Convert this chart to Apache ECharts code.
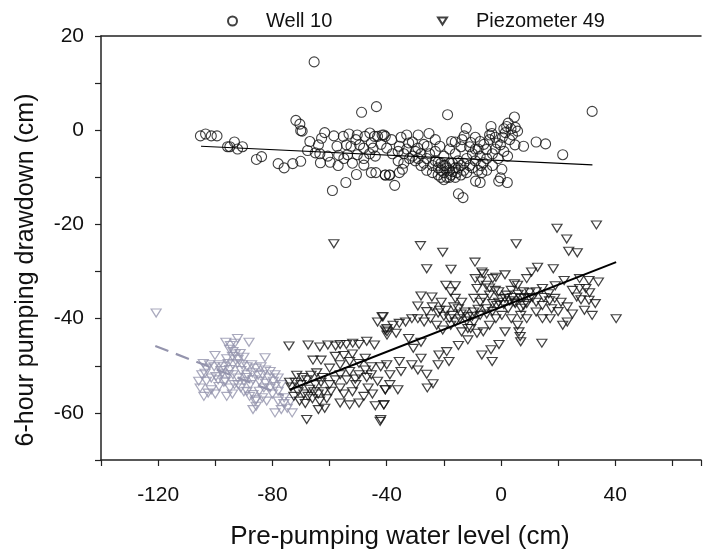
<!DOCTYPE html>
<html>
<head>
<meta charset="utf-8">
<script src="https://cdn.jsdelivr.net/npm/echarts@6/dist/echarts.min.js"></script>
<style>
  html, body { margin: 0; padding: 0; background: #fff; }
  #chart { width: 704px; height: 555px; }
</style>
</head>
<body>
<div id="chart"></div>
<script>
// Well 10 readings (pre-pumping level, 6-hour drawdown), in cm
var well10 = [
  [-65.4,14.5],[-105.2,-1.2],[-103.4,-0.8],[-101.4,-1.2],[-99.4,-1.2],[-95.7,-3.5],[-94.9,-3.5],[-93.3,-2.5],
  [-92.2,-4.0],[-90.5,-3.5],[-85.6,-6.2],[-83.8,-5.6],[-78.0,-7.1],[-75.9,-8.0],[-72.9,-7.1],[-70.1,-6.6],
  [-71.8,2.1],[-70.4,1.3],[-70.1,-0.1],[-69.6,-0.2],[-59.0,-12.8],[-54.3,-11.1],[-50.6,-9.4],[-48.8,3.8],
  [-43.6,5.0],[-48.0,-7.4],[-45.4,-9.0],[-43.8,-9.0],[-40.5,-9.5],[-38.9,-9.5],[-63.2,-6.9],[-59.8,-6.8],
  [-66.9,-2.4],[-67.7,-4.3],[-65.0,-4.8],[-63.4,-5.0],[-61.7,-0.5],[-62.8,-1.7],[-63.9,-3.1],[-60.6,-5.5],
  [-58.5,-1.2],[-57.4,-3.4],[-56.8,-5.3],[-55.2,-1.3],[-54.1,-3.1],[-53.2,-0.8],[-52.5,-3.4],[-53.7,-5.2],
  [-50.8,-2.0],[-50.3,-1.0],[-50.3,-5.2],[-49.5,-3.1],[-48.1,-3.8],[-47.6,-1.3],[-45.9,-0.6],[-45.4,-2.7],
  [-44.8,-3.8],[-44.3,-1.3],[-43.2,-1.3],[-41.6,-1.0],[-40.5,-1.3],[-40.0,-3.8],
  [31.9,4.0],[21.6,-5.2],[15.6,-2.9],[12.3,-2.5],[7.9,-3.4],[4.7,2.8],[2.5,1.5],[1,0.3],[2,0.8],[3.5,0.3],
  [5,0.6],[5.8,-0.2],[4,-1.0],[1.5,-0.5],[4.9,-3.1],[2.3,-5.5],[-0.2,-3.1],[0.3,-8.3],[-0.2,-10.1],
  [-0.8,-10.8],[2.2,-11.1],[-3.5,0.8],[-3.2,-0.7],[-4.0,-2.0],[-1.3,-2.7],[-5.1,-4.1],[-6.2,-6.9],
  [-7.3,-5.5],[-7.3,-2.4],[-6.7,-9.0],[-8.9,-10.8],[-7.3,-11.1],[-10.6,-2.6],[-12.2,0.4],[-12.9,-1.2],
  [-13.6,-2.0],[-14.9,-13.5],[-13.3,-14.3],[-18.7,3.3],[-25.2,-0.7],[-17.3,-2.4],[-21.4,-3.4],[-25.8,-3.4],
  [-29.1,-3.8],[-32.3,-2.7],[-35.6,-3.4],[-38.3,-2.0],[-41.0,-1.0],[-37.2,-11.7],[-40.5,-9.5],[-39.1,-9.5],
  [-35.6,-9.0],[-34.5,-8.3],
  [-36,-4.5],[-34,-5],[-33,-4],[-31,-5.5],[-30,-4.5],[-29,-6],[-28,-5],[-27,-7],[-26,-6],[-25,-5],
  [-24,-7.5],[-23,-6.5],[-22,-8],[-21,-7],[-20,-9],[-19.5,-7.5],[-19,-10],[-18,-8.5],[-17.5,-9.5],[-17,-7],
  [-16,-8],[-15.5,-9],[-15,-6.5],[-14,-7.5],[-13,-8.5],[-12,-6],[-11,-7.5],[-10,-5],[-9,-6.5],[-8,-4],
  [-7,-7.5],[-5,-6],[-3,-5],[-2,-4],[-22,-9.5],[-21,-10],[-20,-10.5],[-18,-10],[-16,-10],[-24,-9],
  [-26,-8.5],[-28,-7.5],[-30,-6.5],[-32,-6],[-34,-7],[-14,-9.5],[-12,-9],[-10,-8],[-23,-4.5],[-27,-3],
  [-31,-2.5],[-16,-5],[-18,-4],[-20,-5.5],[-11,-3.5],[-9,-4],[-6,-3],[-4,-1],[-2,-1.5],[0.5,-1.5],
  [1,-4.5],[3,-2],[-1,-6],[-3,-7.5],[-5,-8.5],[-8,-8.5],[-38,-5],[-36,-6.5],[-42,-3],[-44,-5.5],
  [-46,-5],[-48,-6],[-52,-7],[-55,-6],[-57,-7.5],[-35,-1.5],[-33,-1],[-29,-1],[-23,-2],[-16,-2.5],
  [-14,-3.5],[-9,-1.5],[-21,-8.5],[-19,-8],[-17,-8.8],[-15,-8],[-13,-7],[-20,-7.5],[-18,-7],[-22,-6.8]
];

// Piezometer 49, main period (black triangles)
var piezo49 = [
  [-58.5,-24.1],[-74.2,-45.8],[-67.5,-45.6],[-63.4,-46.0],[-60.6,-45.6],[-57.9,-45.8],[-56.3,-45.5],
  [-54.1,-45.5],[-51.9,-45.2],[-49.7,-45.5],[-47.0,-44.8],[-44.3,-45.6],[-43.2,-40.7],[-41.3,-39.6],
  [-40.5,-42.4],[-39.9,-43.5],[-65.8,-48.8],[-63.0,-48.8],[-56.3,-49.8],[-53.0,-49.1],[-49.7,-49.5],
  [-47.5,-48.4],[-45.4,-50.2],
  [-73.5,-54.5],[-72,-53.5],[-71,-55.5],[-70,-54],[-69,-56],[-68,-53],[-67,-55],[-66,-57],[-65,-54],
  [-64,-56],[-63,-53.5],[-62,-55.5],[-61,-57],[-60,-54],[-72.5,-56.5],[-70.5,-57.5],[-68.5,-58],
  [-66.5,-52],[-64.5,-51.5],[-62.5,-52.5],[-69.5,-52.5],[-67.5,-56.5],[-65.5,-55.5],[-63.5,-57.5],
  [-71.5,-52],[-74,-53.5],
  [-68,-61.4],[-42.3,-61.8],[-63.9,-59.3],[-61.7,-59.0],[-41.0,-58.3],[-56.3,-57.9],[-53.0,-58.3],
  [-49.7,-57.9],[-59.5,-55.4],[-56.3,-54.7],[-50.8,-54.0],[-46.5,-54.7],[-43.2,-53.3],[-40.5,-55.1],
  [-38.9,-54.0],[-56.3,-51.9],[-53.0,-51.2],[-49.7,-51.9],[-47.5,-50.9],[-45.4,-51.9],[-42.1,-50.2],
  [-40.0,-49.8],[-58,-53],[-55,-56],[-52,-55.5],[-48,-56.5],[-45,-56],[-44,-58.5],[-54,-53],[-51,-52.8],
  [-47,-52.5],[-60,-50.5],[-58,-48],[-52,-47.5],[-55,-47.8],
  [19.6,-20.8],[33.4,-20.1],[23.0,-23.1],[23.7,-25.7],[26.7,-26.0],[5.3,-24.1],[-28.2,-24.5],
  [-20.4,-25.9],[-26.0,-29.4],[-9.1,-28.0],[40.3,-40.0],[14.3,-45.2],[6.9,-44.9],[6.7,-43.8],[6.3,-42.8],
  [-0.7,-45.5],[-3.5,-46.6],[-3.1,-49.1],[-6.7,-47.7],[-18.2,-49.1],[-22.0,-49.8],[-19.0,-47.0],
  [-21.7,-47.7],[-14.9,-45.7],[-11.6,-44.5],[-25.8,-54.7],[-23.8,-53.8],[-26.0,-51.8],[-29.1,-50.9],
  [-31.2,-49.8],[-35.6,-49.1],[-35.0,-51.2],[-38.9,-51.9],[-36.1,-55.1],[-40.5,-55.1],[-41.0,-58.3],
  [-42.1,-61.4],[-28.0,-48.4],[-30.7,-46.3],[-28.0,-45.0],[-32.3,-44.2],[-36.7,-43.1],[-39.9,-42.1],
  [-41.6,-39.6],
  [-19.3,-32.9],[-17.6,-34.3],[-16.0,-35.7],[-13.8,-36.5],[-28.0,-35.2],[-24.2,-35.4],[-29.1,-37.3],
  [-20.9,-36.5],[-21.4,-38.2],[-19.3,-38.2],[-17.1,-39.3],[-14.4,-40.0],[-11.6,-39.6],[-9.5,-38.6],
  [-7.3,-36.5],[-9.5,-35.7],[-6.2,-35.7],[-8.4,-33.6],[-5.1,-32.9],[-2.9,-31.5],[-6.2,-30.5],[-6.7,-30.1],
  [-1.8,-31.2],[1.4,-30.7],[4.7,-32.6],[9.0,-31.5],[10.7,-30.1],[12.8,-29.1],[18.3,-29.4],[22.1,-31.9],
  [27.5,-31.5],[30.8,-31.9],[34.1,-32.2],[29.7,-33.6],[27.5,-33.6],[26.5,-35.4],[30.8,-36.1],[33.0,-36.8],
  [29.2,-38.2],[31.9,-39.3],[23.2,-37.5],[21.0,-36.5],[18.8,-35.7],[16.7,-34.7],[14.5,-33.6],[12.3,-34.3],
  [10.1,-35.7],[7.9,-34.3],[5.8,-32.9],[3.6,-34.0],[1.4,-35.7],[-0.8,-36.5],[-2.9,-36.8],[-5.1,-37.9],
  [-7.3,-39.3],[-9.5,-40.7],[-11.6,-42.1],[-13.8,-42.8],[-16.0,-40.7],[-17.6,-41.4],[-20.4,-42.4],
  [-22.5,-41.4],[-24.7,-40.0],[-26.9,-40.7],[-29.1,-40.0],[-31.2,-40.0],[-33.4,-40.7],[-35.6,-41.0],
  [-37.8,-41.4],[-39.9,-42.8],[6.9,-39.3],[9.0,-40.0],[12.3,-38.6],[14.5,-40.0],[17.2,-40.0],[21.6,-41.4],
  [23.2,-40.7],[17.7,-37.9],[14.5,-37.2],[12.3,-36.5],[6.9,-35.7],[4.7,-36.5],[2.5,-37.9],[0.3,-39.3],
  [-1.8,-40.0],[-4.0,-41.4],[-6.2,-42.8],[-8.4,-43.1],[-10.6,-42.1],[1.4,-42.8],[5.8,-41.4],[3.6,-40.0],
  [7.9,-37.2],[-0.8,-34.3],[-4.0,-35.0],[-12.7,-38.6],[-14.9,-37.9],[-16.5,-37.5],
  [2,-35],[3,-36.2],[4,-35.5],[5,-36.8],[6,-34.8],[8,-35.5],[9,-36.8],[10,-34.5],[11,-35.5],[0,-35.8],
  [-1.5,-37.2],[1,-37],[7,-37.8],[-3,-38.5],[-5,-39],[-8,-38],[-10,-39.5],[-12,-40.5],[-14,-39],[-18,-40],
  [-20,-39.5],[-22,-38.8],[-24,-37.5],[-26,-38.5],[-9,-31.5],[-7,-32],[-4,-33.5],[-2,-34],[15,-35.5],
  [17,-36.2],[19,-33],[20,-38.5],[25,-34],[28,-36],[31,-34.5],[25,-39],[-17.5,-29.5],[-16,-33]
];

// Piezometer 49, earlier low-water readings (grey triangles)
var piezo49Early = [
  [-120.7,-38.8],[-96.3,-45.0],[-94.7,-45.7],[-92.2,-44.2],[-93.1,-45.2],[-88.2,-45.0],[-93.8,-47.0],
  [-91.3,-47.4],[-100.1,-47.8],[-82.6,-48.3],[-104.2,-49.5],[-103.1,-50.5],[-102.0,-49.8],[-100.4,-50.2],
  [-98.7,-49.8],[-97.1,-50.2],[-95.5,-49.5],[-93.8,-49.8],[-92.2,-49.5],[-90.6,-49.8],[-88.9,-50.2],
  [-87.3,-49.8],[-85.7,-50.5],[-84.0,-50.2],[-82.4,-50.9],[-80.8,-51.2],[-79.1,-51.9],[-78.0,-52.6],
  [-105.3,-54.7],[-102.5,-55.8],[-101.4,-55.1],[-105.8,-53.3],[-104.7,-51.9],[-98.7,-54.4],[-96.5,-53.3],
  [-94.9,-54.7],[-93.3,-54.0],[-91.1,-54.7],[-88.9,-55.4],[-87.8,-54.0],[-86.8,-56.1],[-85.7,-57.2],
  [-84.6,-55.4],[-83.5,-56.8],[-83.0,-54.7],[-86.8,-59.3],[-85.7,-58.6],[-79.1,-60.0],[-76.9,-59.3],
  [-74.8,-59.0],[-73.1,-60.0],[-75.9,-56.8],[-73.7,-57.6],[-78.0,-55.4],[-76.9,-54.0],[-79.7,-53.3],
  [-81.3,-52.6],[-82.4,-53.7],[-80.8,-54.7],[-79.1,-54.4],[-86.8,-53.0],[-84.6,-53.3],[-83.5,-51.9],
  [-88.9,-51.9],[-90.0,-53.3],[-92.2,-52.6],[-93.8,-51.9],[-95.5,-51.9],[-97.6,-51.6],[-99.8,-52.3],
  [-101.4,-52.6],[-103.1,-53.3],[-103.6,-51.6],
  [-96,-48.5],[-94,-48.0],[-92,-48.6],[-90,-48.2],[-98,-51],[-95,-50.8],[-91,-51],[-89,-52.5],[-87,-51.5],
  [-85,-52],[-99,-53],[-97,-53.5],[-92,-54],[-90,-55.5],[-88,-56.5],[-86,-57.5],[-82,-57.5],[-80,-56],
  [-78,-57.5],[-76,-58],[-94,-56],[-96,-56.5],[-100,-56],[-104,-56.5],[-93,-47.5],[-95,-46.5]
];

// fitted trend lines (end points)
var well10Fit = [[-105, -3.4], [32, -7.35]];
var piezo49Fit = [[-74, -55.1], [40.3, -28.0]];
var piezo49EarlyFit = [[-121, -45.8], [-76, -56.3]];

var xTicks = [-120, -80, -40, 0, 40];
var yTicks = [-60, -40, -20, 0, 20];

var font = 'Liberation Sans, Arial, sans-serif';
var grey = '#9494ad';
// hollow, point-down triangle
var triDown = 'path://M0,0L20,0L10,16Z';

var chart = echarts.init(document.getElementById('chart'));

chart.setOption({
  animation: false,
  backgroundColor: '#fff',
  textStyle: { fontFamily: font, color: '#111' },
  legend: [
    {
      data: ['Well 10'],
      left: 222, top: 6,
      itemWidth: 9, itemHeight: 9,
      textStyle: { fontSize: 20, fontFamily: font, color: '#111', padding: [0, 0, 0, 24] }
    },
    {
      data: ['Piezometer 49'],
      left: 432, top: 6,
      itemWidth: 9, itemHeight: 8,
      textStyle: { fontSize: 20, fontFamily: font, color: '#111', padding: [0, 0, 0, 24] }
    }
  ],
  // axis runs on past the right edge of the picture, as in the original
  grid: { left: 101, top: 36, width: 630, height: 428 },
  xAxis: [
    {
      type: 'value', min: -140, max: 70, interval: 20,
      name: 'Pre-pumping water level (cm)',
      nameLocation: 'middle', nameGap: 64,
      nameTextStyle: { fontSize: 26, fontFamily: font, color: '#111', padding: [0, 2, 0, 0] },
      axisLine: { onZero: false, lineStyle: { color: '#222', width: 1.5 } },
      axisTick: { inside: false, length: 6, lineStyle: { color: '#222', width: 1.2 } },
      axisLabel: {
        fontSize: 21, fontFamily: font, color: '#111', margin: 25,
        formatter: function (v) { return xTicks.indexOf(v) >= 0 ? String(v) : ''; }
      },
      splitLine: { show: false }
    },
    {
      type: 'value', position: 'top', min: -140, max: 70,
      axisLine: { show: true, onZero: false, lineStyle: { color: '#222', width: 1.5 } },
      axisTick: { show: false }, axisLabel: { show: false }, splitLine: { show: false }
    }
  ],
  yAxis: {
    type: 'value', min: -70, max: 20, interval: 10,
    name: '6-hour pumping drawdown (cm)',
    nameLocation: 'middle', nameGap: 62,
    nameTextStyle: { fontSize: 25, fontFamily: font, color: '#111', padding: [0, 44, 0, 0] },
    axisLine: { show: true, onZero: false, lineStyle: { color: '#222', width: 1.5 } },
    axisTick: { show: true, inside: false, length: 6, lineStyle: { color: '#222', width: 1.2 } },
    axisLabel: {
      fontSize: 21, fontFamily: font, color: '#111', margin: 17,
      formatter: function (v) { return yTicks.indexOf(v) >= 0 ? String(v) : ''; }
    },
    splitLine: { show: false }
  },
  series: [
    {
      name: 'Piezometer 49 early', type: 'scatter', data: piezo49Early,
      symbol: triDown, symbolSize: [10, 8],
      itemStyle: { color: 'rgba(255,255,255,0)', borderColor: grey, borderWidth: 1.2 },
      z: 2
    },
    {
      name: 'Piezometer 49', type: 'scatter', data: piezo49,
      symbol: triDown, symbolSize: [10, 8],
      itemStyle: { color: 'rgba(255,255,255,0)', borderColor: '#111', borderWidth: 1.2 },
      z: 3
    },
    {
      name: 'Well 10', type: 'scatter', data: well10,
      symbol: 'circle', symbolSize: 10,
      itemStyle: { color: 'rgba(255,255,255,0)', borderColor: '#111', borderWidth: 1.1 },
      z: 3
    },
    {
      name: 'early fit', type: 'line', data: piezo49EarlyFit, symbol: 'none',
      lineStyle: { color: grey, width: 2.2, type: [14, 8] }, z: 1
    },
    {
      name: 'piezo fit', type: 'line', data: piezo49Fit, symbol: 'none',
      lineStyle: { color: '#000', width: 2 }, z: 4
    },
    {
      name: 'well fit', type: 'line', data: well10Fit, symbol: 'none',
      lineStyle: { color: '#000', width: 1.2 }, z: 4
    }
  ]
});
</script>
</body>
</html>
